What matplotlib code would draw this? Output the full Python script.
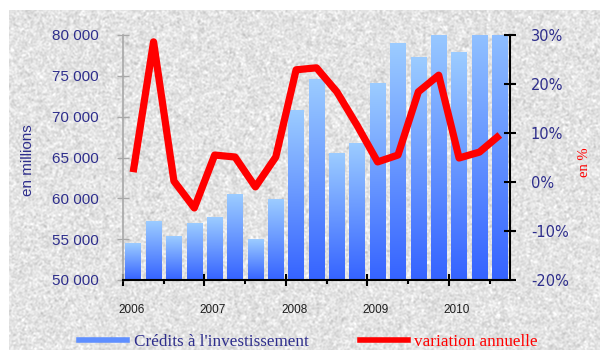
import numpy as np
import matplotlib
matplotlib.use("Agg")
import matplotlib.pyplot as plt
from matplotlib.colors import LinearSegmentedColormap
from matplotlib.lines import Line2D
from matplotlib.ticker import FuncFormatter, FixedLocator, MultipleLocator

# Quarterly investment credits (millions) and year-on-year change (%)
quarters = ["2006T1", "2006T2", "2006T3", "2006T4",
            "2007T1", "2007T2", "2007T3", "2007T4",
            "2008T1", "2008T2", "2008T3", "2008T4",
            "2009T1", "2009T2", "2009T3", "2009T4",
            "2010T1", "2010T2", "2010T3"]
credits = [54500, 57200, 55300, 56900, 57600, 60500, 55000, 59900,
           70800, 74600, 65500, 66700, 74100, 79000, 77300, 81200,
           77800, 83800, 84700]
variation = [2.0, 28.6, 0.2, -5.3, 5.5, 5.1, -1.0, 5.1,
             22.9, 23.3, 18.4, 11.5, 4.1, 5.5, 18.4, 21.8,
             4.9, 6.1, 9.6]
years = ["2006", "2007", "2008", "2009", "2010"]

NAVY = "#2e2e8c"
RED = "#ff0000"

fig = plt.figure(figsize=(6.0, 3.5), dpi=100, facecolor="white")

# fine-grained grey backdrop
bg = fig.add_axes([9 / 600, 0, 591 / 600, 340 / 350])
rng = np.random.default_rng(7)
noise = rng.normal(0, 1, (340, 591))
k = np.array([1, 2, 1], float)
k /= k.sum()
noise = np.apply_along_axis(lambda r: np.convolve(r, k, mode="same"), 1, noise)
noise = np.apply_along_axis(lambda c: np.convolve(c, k, mode="same"), 0, noise)
noise = 0.89 + 0.035 * noise / noise.std()
bg.imshow(np.clip(noise, 0, 1), cmap="gray", vmin=0, vmax=1,
          aspect="auto", interpolation="nearest")
bg.set_axis_off()

ax = fig.add_axes([123 / 600, 70 / 350, 387 / 600, 245 / 350])
ax.set_facecolor("none")

x = np.arange(len(quarters))
width = 0.76
grad_cmap = LinearSegmentedColormap.from_list("bar", ["#3563ff", "#9cccff"])
grad = np.linspace(0, 1, 256).reshape(-1, 1)
for xi, v in zip(x, credits):
    ax.imshow(grad, extent=[xi - width / 2, xi + width / 2, 50000, v],
              origin="lower", cmap=grad_cmap, aspect="auto",
              interpolation="bilinear", zorder=2)

ax.set_xlim(-0.5, len(quarters) - 0.5)
ax.set_ylim(50000, 80000)
ax.yaxis.set_major_locator(MultipleLocator(5000))
ax.yaxis.set_major_formatter(
    FuncFormatter(lambda v, p: f"{v:,.0f}".replace(",", " ")))
ax.tick_params(axis="y", direction="inout", length=9, width=1,
               color="#a8a8a8", labelcolor=NAVY, labelsize=11, pad=13)
for lab in ax.get_yticklabels():
    lab.set_family("Liberation Sans")

ax.spines["left"].set_color("#a8a8a8")
ax.spines["left"].set_linewidth(1.2)
ax.spines["top"].set_visible(False)
ax.spines["right"].set_visible(False)
ax.spines["bottom"].set_color("black")
ax.spines["bottom"].set_linewidth(1.5)

# year boundaries as major ticks, half-years as minor ticks
ax.xaxis.set_major_locator(FixedLocator(np.arange(-0.5, len(quarters), 4)))
ax.xaxis.set_minor_locator(FixedLocator(np.arange(1.5, len(quarters), 4)))
ax.set_xticklabels([])
ax.tick_params(axis="x", which="major", direction="inout", length=9,
               width=1.5, color="black")
ax.tick_params(axis="x", which="minor", direction="out", length=3,
               width=1.5, color="black")
for i, yr in enumerate(years):
    ax.text(x[4 * i] - 0.1, -0.122, yr, transform=ax.get_xaxis_transform(),
            ha="center", va="center", fontsize=8.5, color="#1e1e1e",
            family="Liberation Sans")

ax.set_ylabel("en millions", color=NAVY, fontsize=11,
              family="Liberation Sans", labelpad=10)
ax.yaxis.set_label_coords(-0.228, 0.49)

# year-on-year change on the secondary axis
ax2 = ax.twinx()
ax2.plot(x, variation, color=RED, lw=5.2, solid_joinstyle="round",
         solid_capstyle="butt", zorder=3)
ax2.set_ylim(-20, 30)
ax2.yaxis.set_major_locator(MultipleLocator(10))
ax2.yaxis.set_major_formatter(FuncFormatter(lambda v, p: f"{v:.0f}%"))
ax2.tick_params(axis="y", direction="inout", length=8, width=1.5,
                color="black", labelcolor=NAVY, labelsize=11, pad=11)
for lab in ax2.get_yticklabels():
    lab.set_family("DejaVu Sans")
    lab.set_fontsize(10.5)
for s in ("left", "top", "bottom"):
    ax2.spines[s].set_visible(False)
ax2.spines["right"].set_color("black")
ax2.spines["right"].set_linewidth(1.5)
ax2.set_ylabel("en %", color=RED, fontsize=10.5, family="Liberation Serif",
               rotation=90)
ax2.yaxis.set_label_coords(1.175, 0.48)

handles = [Line2D([], [], color="#5f8fff", lw=4),
           Line2D([], [], color=RED, lw=4)]
fig.legend(handles, ["Crédits à l'investissement", "variation annuelle"],
           loc="center left", bbox_to_anchor=(79 / 600, 1 - 342 / 350),
           ncol=2, frameon=False, handlelength=2.8, handletextpad=0.4,
           columnspacing=3.0, borderpad=0, borderaxespad=0,
           labelcolor=[NAVY, RED],
           prop={"family": "Liberation Serif", "size": 12.3})

fig.savefig("out.png", dpi=100, facecolor="white")
